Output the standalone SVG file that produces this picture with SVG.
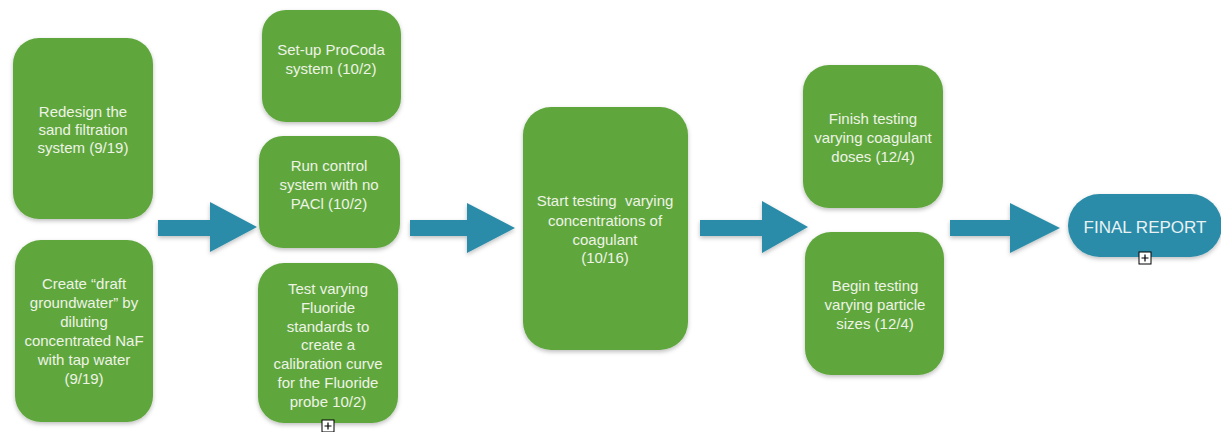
<svg xmlns="http://www.w3.org/2000/svg" width="1221" height="432" viewBox="0 0 1221 432">
  <defs>
    <filter id="shadow" x="-10%" y="-10%" width="120%" height="125%">
      <feDropShadow dx="0" dy="2" stdDeviation="2" flood-color="#000" flood-opacity="0.25"/>
    </filter>
  </defs>
  <style>
    .box { fill: #5fa73e; filter: url(#shadow); }
    .arrow { fill: #2a8ca8; filter: url(#shadow); }
    .pill { fill: #2a8ca8; filter: url(#shadow); }
    .t { font-family: "Liberation Sans", Arial, sans-serif; font-size: 15px; fill: #eef3e6; text-anchor: middle; }
    .big { font-size: 17px; fill: #e8f2f5; }
    .icon { fill: #fff; stroke: #000; stroke-width: 1; }
    .plus { stroke: #000; stroke-width: 1.2; fill: none; }
  </style>

  <g id="connectors">
    <polygon class="arrow" points="158,220 210,220 210,202 257,227 210,252 210,236 158,236"/>
    <polygon class="arrow" points="410,220 467,220 467,203 515,228 467,253 467,236 410,236"/>
    <polygon class="arrow" points="700,220 762,220 762,201 808,227 762,253 762,236 700,236"/>
    <polygon class="arrow" points="950,220 1010,220 1010,203 1060,228 1010,253 1010,236 950,236"/>
  </g>

  <g id="node-redesign">
    <rect class="box" x="13" y="38" width="140" height="181" rx="26"/>
    <text class="t" x="83" y="117">Redesign the</text>
    <text class="t" x="83" y="135">sand filtration</text>
    <text class="t" x="83" y="153">system (9/19)</text>
  </g>

  <g id="node-draft">
    <rect class="box" x="15" y="240" width="138" height="182" rx="26"/>
    <text class="t" x="84" y="289">Create “draft</text>
    <text class="t" x="84" y="308">groundwater” by</text>
    <text class="t" x="84" y="327">diluting</text>
    <text class="t" x="84" y="346">concentrated NaF</text>
    <text class="t" x="84" y="365">with tap water</text>
    <text class="t" x="84" y="384">(9/19)</text>
  </g>

  <g id="node-procoda">
    <rect class="box" x="262" y="10" width="139" height="112" rx="24"/>
    <text class="t" x="331" y="55">Set-up ProCoda</text>
    <text class="t" x="331" y="74">system (10/2)</text>
  </g>

  <g id="node-control">
    <rect class="box" x="259" y="136" width="141" height="112" rx="24"/>
    <text class="t" x="329" y="171">Run control</text>
    <text class="t" x="329" y="190">system with no</text>
    <text class="t" x="329" y="209">PACl (10/2)</text>
  </g>

  <g id="node-fluoride">
    <rect class="box" x="258" y="263" width="140" height="160" rx="26"/>
    <text class="t" x="328" y="294">Test varying</text>
    <text class="t" x="328" y="313">Fluoride</text>
    <text class="t" x="328" y="332">standards to</text>
    <text class="t" x="328" y="350">create a</text>
    <text class="t" x="328" y="369">calibration curve</text>
    <text class="t" x="328" y="388">for the Fluoride</text>
    <text class="t" x="328" y="407">probe 10/2)</text>
    <rect class="icon" x="322" y="420" width="12" height="12"/>
    <path class="plus" d="M324.5,426 H331.5 M328,422.5 V429.5"/>
  </g>

  <g id="node-start">
    <rect class="box" x="523" y="107" width="165" height="243" rx="28"/>
    <text class="t" x="605" y="206" xml:space="preserve">Start testing  varying</text>
    <text class="t" x="605" y="226">concentrations of</text>
    <text class="t" x="605" y="245">coagulant</text>
    <text class="t" x="605" y="263">(10/16)</text>
  </g>

  <g id="node-finish">
    <rect class="box" x="803" y="65" width="140" height="143" rx="26"/>
    <text class="t" x="873" y="124">Finish testing</text>
    <text class="t" x="873" y="143">varying coagulant</text>
    <text class="t" x="873" y="162">doses (12/4)</text>
  </g>

  <g id="node-begin">
    <rect class="box" x="805" y="232" width="139" height="143" rx="26"/>
    <text class="t" x="875" y="291">Begin testing</text>
    <text class="t" x="875" y="310">varying particle</text>
    <text class="t" x="875" y="329">sizes (12/4)</text>
  </g>

  <g id="node-final">
    <rect class="pill" x="1068" y="194" width="154" height="63" rx="31.5"/>
    <text class="t big" x="1145" y="233">FINAL REPORT</text>
    <rect class="icon" x="1139" y="252" width="12" height="12"/>
    <path class="plus" d="M1141.5,258 H1148.5 M1145,254.5 V261.5"/>
  </g>
</svg>
